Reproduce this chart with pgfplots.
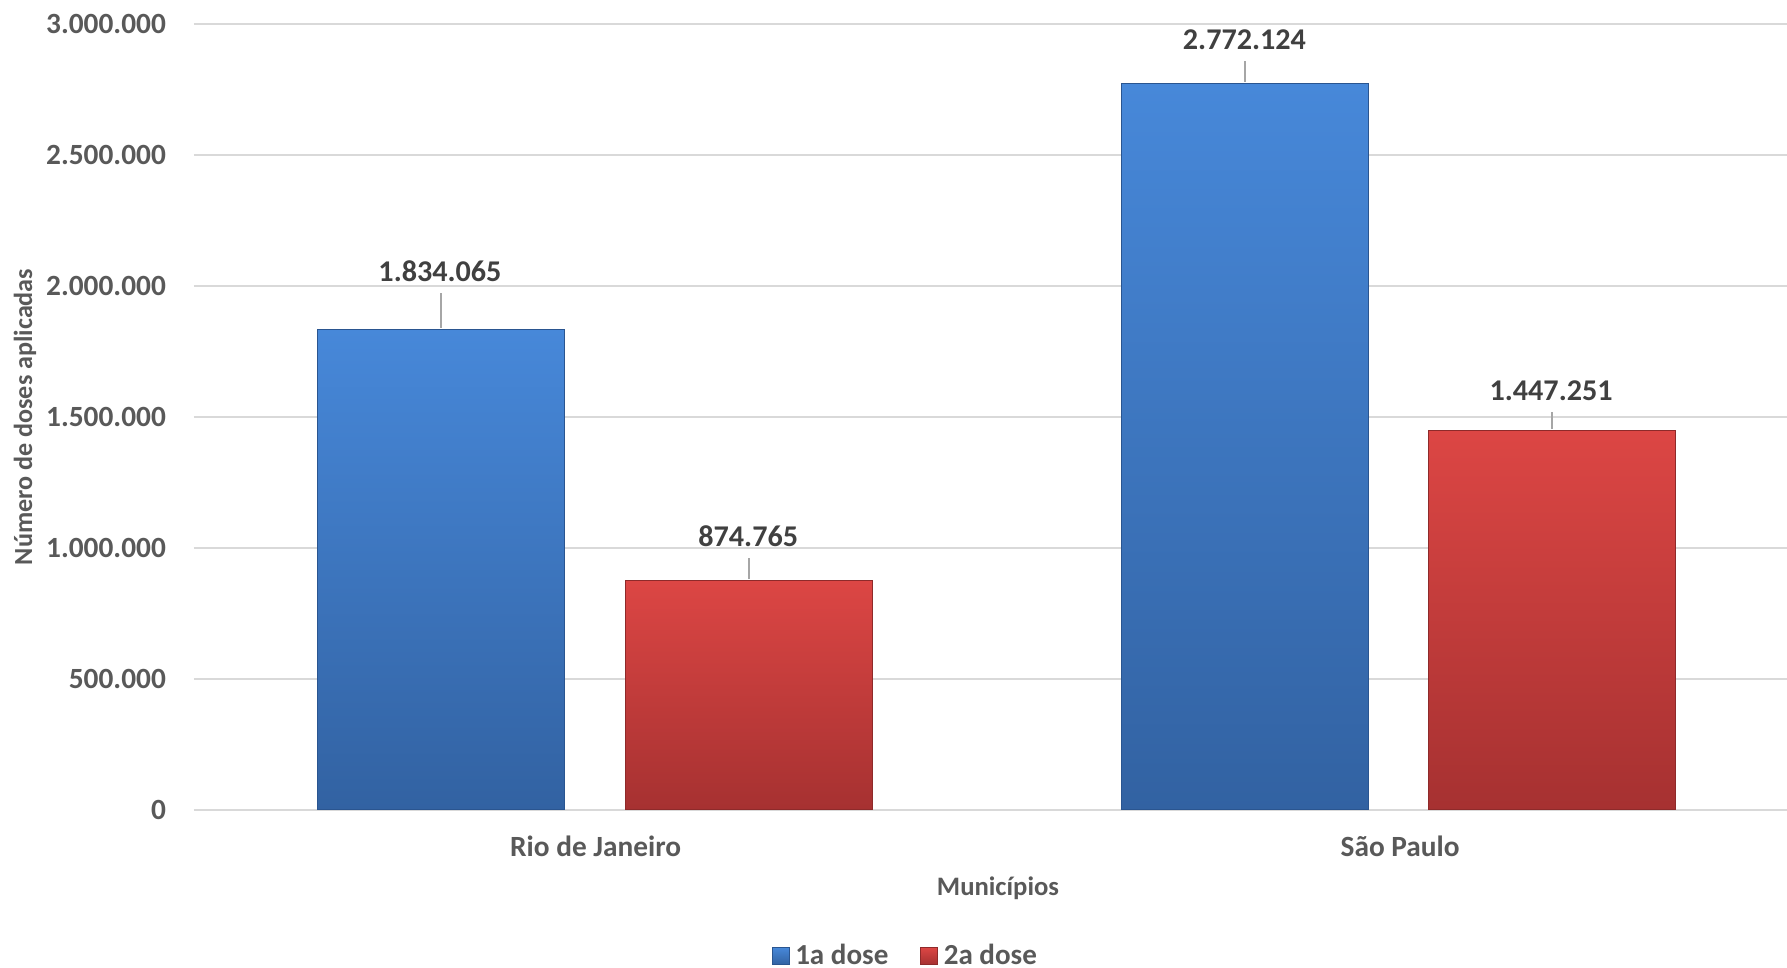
\documentclass[border=0pt]{standalone}
\usepackage{fontspec}
\setmainfont{Carlito}
\usepackage{pgfplots}
\pgfplotsset{compat=1.18}
\definecolor{txt}{HTML}{595959}
\definecolor{lbl}{HTML}{404040}
\definecolor{gridc}{HTML}{D9D9D9}
\definecolor{bTop}{HTML}{4788D9}
\definecolor{bBot}{HTML}{3262A2}
\definecolor{bEdge}{HTML}{2A5590}
\definecolor{rTop}{HTML}{DC4644}
\definecolor{rBot}{HTML}{A63131}
\definecolor{rEdge}{HTML}{8E2A2A}
\definecolor{leader}{HTML}{A6A6A6}
\newcommand{\lbl}[1]{\makebox[0pt]{\raisebox{\dimexpr#1+4.4pt\relax}{\pgfmathprintnumber{\pgfplotspointmeta}}}\textcolor{leader}{\rule{0.7pt}{#1}}}
\begin{document}
\begin{tikzpicture}
\begin{axis}[
  scale only axis, width=597.4pt, height=294.75pt,
  xmin=-0.5, xmax=1.5, ymin=0, ymax=3000000,
  xtick={0.0043,1.0143}, xticklabels={Rio de Janeiro, São Paulo},
  ytick={0,500000,...,3000000},
  scaled y ticks=false,
  /pgf/number format/fixed,
  /pgf/number format/precision=0,
  /pgf/number format/1000 sep={.},
  /pgf/number format/assume math mode=true,
  axis line style={draw=none}, major tick length=0pt,
  ymajorgrids, major grid style={draw=gridc, line width=0.8pt},
  tick label style={font=\bfseries\fontsize{11}{13}\selectfont, text=txt},
  yticklabel style={anchor=east, xshift=-7pt},
  xticklabel style={anchor=base, yshift=-17.5pt},
  xlabel={Municípios},
  xlabel style={at={(axis description cs:0.5047,-0.1094)}, anchor=base, font=\bfseries\fontsize{10}{12}\selectfont, text=txt},
  ylabel={Número de doses aplicadas},
  ylabel style={at={(axis description cs:-0.1061,0.5)}, anchor=center, font=\bfseries\fontsize{9.8}{11}\selectfont, text=txt},
  legend style={at={(axis description cs:0.4476,-0.1858)}, anchor=center, draw=none, fill=none,
    legend columns=2, font=\bfseries\fontsize{10.9}{12}\selectfont, text=txt,
    /tikz/every even column/.append style={column sep=10pt}},
  legend image code/.code={\draw[#1] (0pt,-3.2pt) rectangle (6.4pt,3.2pt);},
  every node near coord/.append style={anchor=south, inner sep=0pt, yshift=0.4pt,
    font=\bfseries\fontsize{11.3}{13}\selectfont, text=lbl},
  bluebar/.style={ybar, bar width=0.31, bar shift=0, draw=bEdge, line width=0.4pt, top color=bTop, bottom color=bBot},
  redbar/.style={ybar, bar width=0.31, bar shift=0, draw=rEdge, line width=0.4pt, top color=rTop, bottom color=rBot},
]
\addplot[bluebar, nodes near coords={\lbl{13pt}}] coordinates {(-0.19,1834065)};
\addlegendentry{1a dose}
\addplot[bluebar, forget plot, nodes near coords={\lbl{7.8pt}}] coordinates {(0.82,2772124)};
\addplot[redbar, nodes near coords={\lbl{8pt}}] coordinates {(0.197,874765)};
\addlegendentry{2a dose}
\addplot[redbar, forget plot, nodes near coords={\lbl{6.5pt}}] coordinates {(1.205,1447251)};
\end{axis}
\pgfresetboundingbox
\path[use as bounding box] (-72.75pt,-59.25pt) rectangle (597.4pt,303.75pt);
\end{tikzpicture}
\end{document}
